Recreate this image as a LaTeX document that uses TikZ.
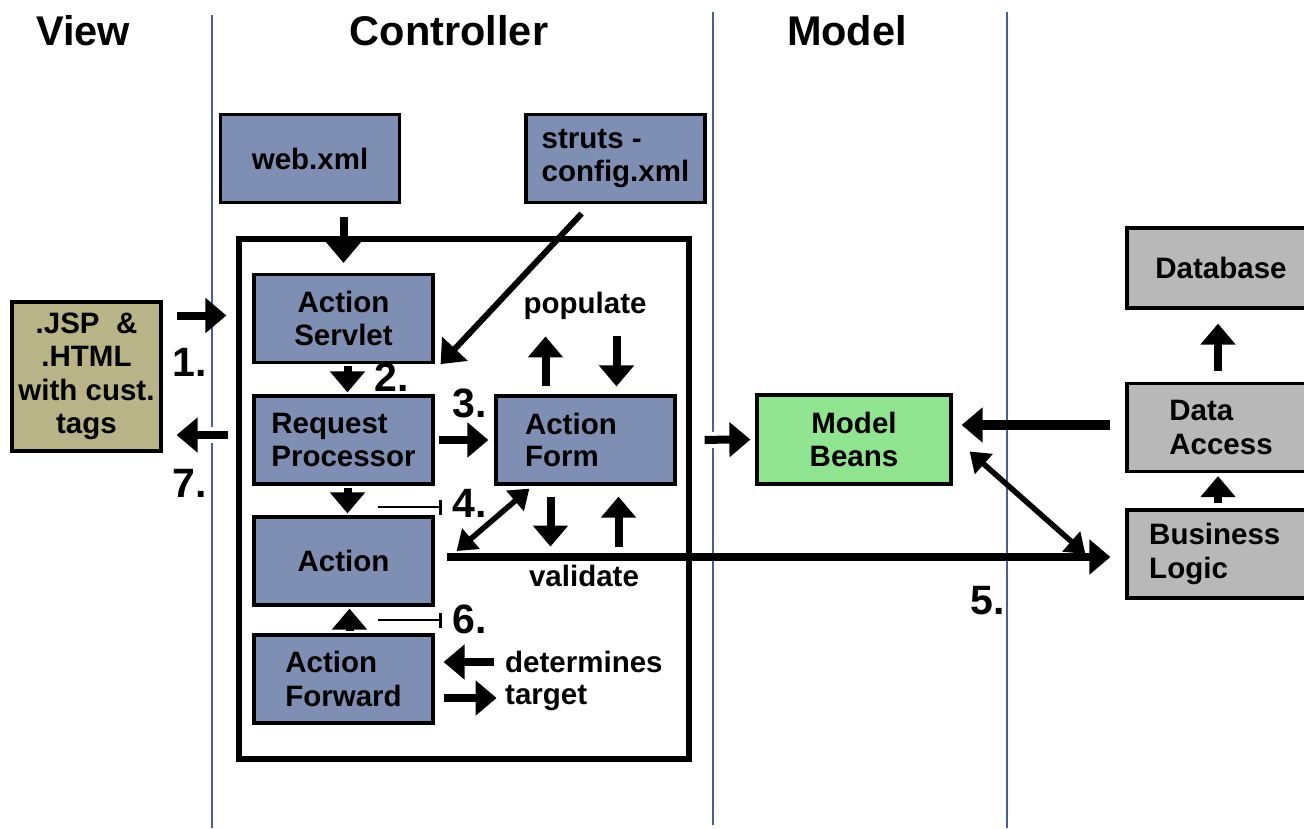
\documentclass[tikz,border=0pt]{standalone}
\usepackage{fontspec}
\setmainfont{Liberation Sans}
\usetikzlibrary{arrows.meta,calc}
\definecolor{strutsblue}{RGB}{127,143,180}
\definecolor{viewolive}{RGB}{184,180,136}
\definecolor{beangreen}{RGB}{144,228,144}
\definecolor{tiergray}{RGB}{184,184,184}
\definecolor{laneblue}{RGB}{74,94,150}
\tikzset{
  box/.style={draw=black, line width=3.2pt, minimum width=179pt, minimum height=88pt,
    inner sep=2pt, font=\fontsize{29.5}{33.5}\selectfont\bfseries},
  ctrl/.style={box, fill=strutsblue},
  modelbox/.style={box, fill=tiergray, minimum width=188pt},
  lane/.style={draw=laneblue, line width=1.8pt},
  flow/.style={line width=8pt, -{Triangle[length=21pt,width=34pt]}},
  flow2/.style={line width=5.5pt, {Triangle[length=19pt,width=26pt]}-{Triangle[length=19pt,width=26pt]}},
  halo/.style={preaction={draw=white, line width=16pt, -}},
  tick/.style={line width=2pt, -{Bar[width=15pt,line width=2.5pt]}},
  lbl/.style={font=\fontsize{29.5}{32}\selectfont\bfseries, inner sep=0pt},
  num/.style={font=\fontsize{41}{43}\selectfont\bfseries, inner sep=0pt},
  head/.style={font=\fontsize{41.5}{43}\selectfont\bfseries, inner sep=0pt}
}
\begin{document}
\begin{tikzpicture}[x=1pt, y=-1pt]
\useasboundingbox (0,0) rectangle (1304,828);
\fill[white] (0,0) rectangle (1304,828);

% swim-lane separators
\draw[lane] (212,15) -- (212,828);
\draw[lane] (713,12) -- (713,825);
\draw[lane] (1007,12) -- (1007,828);

% lane titles
\node[head] (hview) at (83,31) {View};
\node[head] (hctrl) at (449,31) {Controller};
\node[head] (hmodel) at (847,31) {Model};

% controller frame
\node[draw=black, line width=6pt, minimum width=450pt, minimum height=520pt, inner sep=0pt]
  (frame) at (464,499) {};

% configuration files
\node[ctrl] (web) at (310,158.5) {web.xml};
\node[ctrl, align=left] (struts) at (615.5,158.5) {struts -\\config.xml};

% controller components
\node[ctrl, align=center] (servlet) at (343.5,318.5) {Action\\Servlet};
\node[ctrl, align=left] (reqproc) at (343.5,440) {Request\\Processor};
\node[ctrl, align=left] (form) at (585.5,440) {Action\\[-2pt]Form\hspace*{1.6em}};
\node[ctrl] (action) at (343.5,561) {Action};
\node[ctrl, align=left] (forward) at (343.5,679) {Action\\Forward};

% view page
\node[box, fill=viewolive, minimum width=149pt, minimum height=149pt, align=center]
  (jsp) at (86.5,376.5) {.JSP\ \ \&\\.HTML\\with cust.\\tags};

% model side
\node[box, fill=beangreen, minimum width=194pt, minimum height=89pt, align=center]
  (beans) at (854,439.5) {Model\\Beans};
\node[modelbox, minimum height=80pt] (database) at (1221,268) {Database};
\node[modelbox, align=left] (dataacc) at (1221,427.5) {Data\\Access};
\node[modelbox, align=left] (business) at (1221,554) {Business\\Logic\hspace*{2.2em}};

% step numbers
\node[num] (n1) at (190,362) {1.};
\node[num] (n2) at (392,377) {2.};
\node[num] (n3) at (470,403) {3.};
\node[num] (n4) at (470,503) {4.};
\node[num] (n5) at (988,601) {5.};
\node[num] (n6) at (470,619) {6.};
\node[num] (n7) at (190,483) {7.};

% side labels
\node[lbl] (populate) at (585,306) {populate};
\node[lbl] (validate) at (584,576) {validate};
\node[lbl, anchor=west] (determines) at (505,662) {determines};
\node[lbl, anchor=west] (target) at (505,698) {target};
\coordinate (t4) at (378,507);
\coordinate (t6) at (378,620);

% configuration flows
\draw[flow, shorten <=13pt, shorten >=10pt] (servlet.north |- web.south) -- (servlet.north);
\draw[flow, line width=6pt, shorten <=13pt] ($(struts.south)+(-25,0)$) -- ($(servlet.south east)+(6,0)$);

% request / response with the view
\draw[flow, halo, shorten <=14pt, shorten >=26pt] ($(jsp.east)+(0,-61)$) -- ($(servlet.west)+(0,-3)$);
\draw[flow, halo, shorten <=24pt, shorten >=14pt] ($(reqproc.west)+(0,-5)$) -- ($(jsp.east)+(0,58.5)$);

% controller internal flows
\draw[flow, shorten <=2pt, shorten >=2pt] ($(servlet.south)+(4,0)$) -- ($(reqproc.north)+(4,0)$);
\draw[flow, shorten <=2pt, shorten >=2pt] ($(reqproc.south)+(4,0)$) -- ($(action.north)+(4,0)$);
\draw[flow, shorten <=2pt, shorten >=2pt] ($(forward.north)+(6,0)$) -- ($(action.south)+(6,0)$);
\draw[flow, shorten <=4pt, shorten >=6pt] (reqproc.east) -- (form.west);
\draw[tick, shorten >=11pt] (t4) -- (t4 -| n4.west);
\draw[tick, shorten >=11pt] (t6) -- (t6 -| n6.west);

% populate / validate
\draw[flow, shorten <=8pt] ($(form.north)+(-40,0)$) -- ($(form.north)+(-40,-58)$);
\draw[flow, shorten >=8pt] ($(form.north)+(31,-58)$) -- ($(form.north)+(31,0)$);
\draw[flow, shorten <=11pt] ($(form.south)+(-35,0)$) -- ($(form.south)+(-35,61)$);
\draw[flow, shorten >=11pt] ($(form.south)+(33,61)$) -- ($(form.south)+(33,0)$);
\draw[flow2] ($(form.south west)+(35,3)$) -- ($(action.east)+(22,-10)$);

% action forward
\draw[flow] ($(forward.east)+(59,-17)$) -- ($(forward.east)+(9,-17)$);
\draw[flow] ($(forward.east)+(9,19)$) -- ($(forward.east)+(62,19)$);

% model interaction
\draw[flow, halo, shorten <=28pt, shorten >=5pt] (form.east) -- (beans.west);
\draw[flow, line width=8pt, shorten <=12pt, shorten >=15pt] ($(action.east)+(0,-4)$) -- ($(business.west)+(0,3)$);
\draw[flow2] ($(beans.east)+(17,12)$) -- ($(business.west)+(-40,0)$);
\draw[flow, line width=10pt, shorten <=15pt, shorten >=9pt] ($(dataacc.west)+(0,-2.5)$) -- ($(beans.east)+(0,-14.5)$);
\draw[flow, shorten <=5pt, shorten >=3pt] ($(business.north)+(-3,0)$) -- ($(dataacc.south)+(-3,0)$);
\draw[flow, shorten <=11pt, shorten >=14pt] ($(dataacc.north)+(-3,0)$) -- ($(database.south)+(-3,0)$);
\end{tikzpicture}
\end{document}
